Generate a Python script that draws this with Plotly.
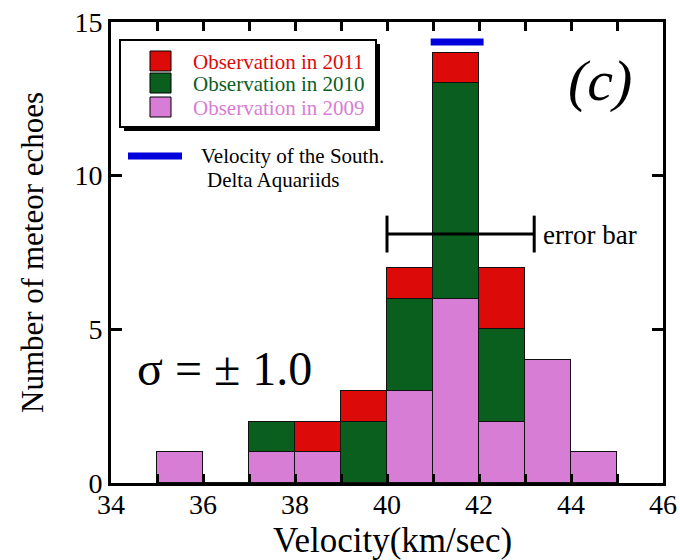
import plotly.graph_objects as go

# ---- data ----
bin_centers = [35.5, 36.5, 37.5, 38.5, 39.5, 40.5, 41.5, 42.5, 43.5, 44.5]
obs_2009 = [1, 0, 1, 1, 0, 3, 6, 2, 4, 1]
obs_2010 = [0, 0, 1, 0, 2, 3, 7, 3, 0, 0]
obs_2011 = [0, 0, 0, 1, 1, 1, 1, 2, 0, 0]
series_names = ["Observation in 2009", "Observation in 2010", "Observation in 2011"]
series_colors = ["#D87DD6", "#0A5E1E", "#DD0A0A"]
x_ticks = [34, 36, 38, 40, 42, 44, 46]
y_ticks = [0, 5, 10, 15]
shower_velocity = [40.95, 42.1]   # South. Delta Aquariids velocity range
shower_marker_y = 14.35
errbar_x = [40.0, 43.2]
errbar_y = 8.1

FONT = "Liberation Serif, Times New Roman, serif"

fig = go.Figure()
for vals, name, col in zip([obs_2009, obs_2010, obs_2011], series_names, series_colors):
    fig.add_trace(go.Bar(x=bin_centers, y=vals, width=1.0, name=name,
                         marker=dict(color=col, line=dict(color="#111111", width=1)),
                         showlegend=False))

# pixel -> paper helpers (plot area: x 111..663, y 22..483)
def PX(p):
    return (p - 111) / 552.0
def PY(p):
    return (483 - p) / 461.0

shapes = []
# legend box shadow and box
shapes.append(dict(type="rect", xref="paper", yref="paper", x0=PX(124), x1=PX(380), y0=PY(131), y1=PY(44),
                   fillcolor="black", line=dict(width=0), layer="above"))
shapes.append(dict(type="rect", xref="paper", yref="paper", x0=PX(120), x1=PX(376), y0=PY(127), y1=PY(40),
                   fillcolor="white", line=dict(color="black", width=2), layer="above"))
# legend squares
leg_y = [(51, 71), (73, 93), (97, 117)]
for (y0, y1), col in zip(leg_y, series_colors[::-1]):
    shapes.append(dict(type="rect", xref="paper", yref="paper", x0=PX(150), x1=PX(171), y0=PY(y1), y1=PY(y0),
                       fillcolor=col, line=dict(color="black", width=1), layer="above"))
# blue legend line
shapes.append(dict(type="line", xref="paper", yref="paper", x0=PX(128), x1=PX(182), y0=PY(156), y1=PY(156),
                   line=dict(color="#0000DD", width=7), layer="above"))
# shower velocity marker
shapes.append(dict(type="line", xref="x", yref="y", x0=shower_velocity[0], x1=shower_velocity[1],
                   y0=shower_marker_y, y1=shower_marker_y, line=dict(color="#0000DD", width=7), layer="above"))
# error bar
shapes.append(dict(type="line", xref="x", yref="y", x0=errbar_x[0], x1=errbar_x[1], y0=errbar_y, y1=errbar_y,
                   line=dict(color="black", width=3), layer="above"))
for xv in errbar_x:
    shapes.append(dict(type="line", xref="x", yref="y", x0=xv, x1=xv, y0=errbar_y - 0.6, y1=errbar_y + 0.6,
                       line=dict(color="black", width=3), layer="above"))

annotations = []
leg_text_y = [62, 84, 108]
for ty, name, col in zip(leg_text_y, series_names[::-1], series_colors[::-1]):
    annotations.append(dict(xref="paper", yref="paper", x=PX(191), y=PY(ty), text=name, showarrow=False,
                            xanchor="left", yanchor="middle", font=dict(family=FONT, size=21, color=col)))
annotations.append(dict(xref="paper", yref="paper", x=PX(199), y=PY(156), text="Velocity of the South.",
                        showarrow=False, xanchor="left", yanchor="middle", font=dict(family=FONT, size=21, color="black")))
annotations.append(dict(xref="paper", yref="paper", x=PX(205), y=PY(180), text="Delta Aquariids",
                        showarrow=False, xanchor="left", yanchor="middle", font=dict(family=FONT, size=21, color="black")))
annotations.append(dict(xref="paper", yref="paper", x=PX(541), y=PY(235), text="error bar",
                        showarrow=False, xanchor="left", yanchor="middle", font=dict(family=FONT, size=27, color="black")))
annotations.append(dict(xref="paper", yref="paper", x=PX(600), y=PY(80), text="<i>(c)</i>",
                        showarrow=False, xanchor="center", yanchor="middle", font=dict(family=FONT, size=58, color="black")))
annotations.append(dict(xref="paper", yref="paper", x=PX(135), y=PY(368), text="σ = ± 1.0",
                        showarrow=False, xanchor="left", yanchor="middle", font=dict(family=FONT, size=48, color="black")))
# axis titles
annotations.append(dict(xref="paper", yref="paper", x=PX(392), y=PY(540), text="Velocity(km/sec)",
                        showarrow=False, xanchor="center", yanchor="middle", font=dict(family=FONT, size=35, color="black")))
annotations.append(dict(xref="paper", yref="paper", x=PX(32), y=PY(253), text="Number of meteor echoes",
                        textangle=-90, showarrow=False, xanchor="center", yanchor="middle",
                        font=dict(family=FONT, size=31, color="black")))

fig.update_layout(
    width=680, height=560,
    margin=dict(l=111, r=17, t=22, b=77, autoexpand=False),
    barmode="stack", bargap=0,
    plot_bgcolor="white", paper_bgcolor="white",
    shapes=shapes, annotations=annotations,
    font=dict(family=FONT, color="black"),
)
fig.update_xaxes(range=[34, 46], tickvals=x_ticks, ticks="inside", ticklen=9, tickwidth=3, tickcolor="black",
                 minor=dict(dtick=1, tick0=34, ticks="inside", ticklen=9, tickwidth=3, tickcolor="black"),
                 showline=True, linewidth=3, linecolor="black", mirror="ticks", showgrid=False, zeroline=False,
                 automargin=False, ticklabelstandoff=-6, tickfont=dict(family=FONT, size=28, color="black"))
fig.update_yaxes(range=[0, 15], tickvals=y_ticks, ticks="inside", ticklen=11, tickwidth=3, tickcolor="black",
                 showline=True, linewidth=3, linecolor="black", mirror="ticks", showgrid=False, zeroline=False,
                 automargin=False, tickfont=dict(family=FONT, size=28, color="black"))

fig.write_html("out.html", config={"displayModeBar": False},
               post_script="document.body.style.margin='0';")
